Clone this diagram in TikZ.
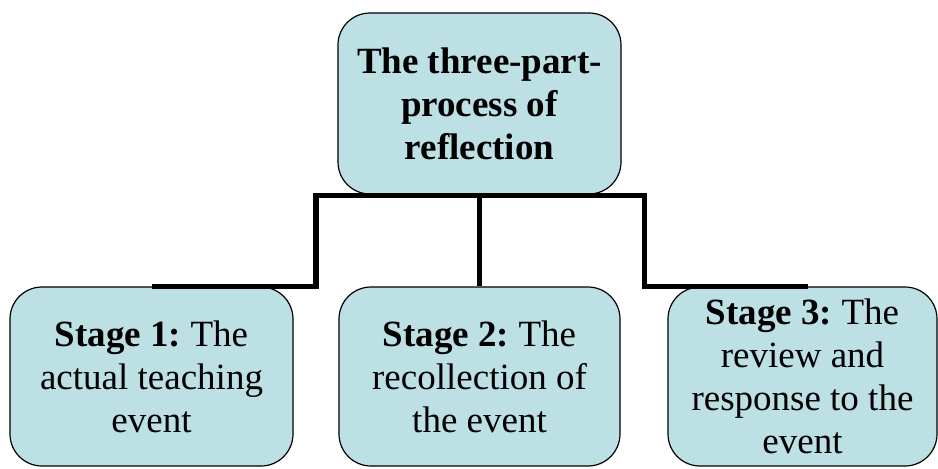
\documentclass[tikz,border=0pt]{standalone}
\usepackage{fontspec}
\setmainfont{Liberation Serif}
\definecolor{boxfill}{RGB}{188,224,228}
\begin{document}
\frenchspacing
\begin{tikzpicture}[x=0.5pt,y=-0.5pt,
  stagebox/.style={draw=black, line width=0.6pt, fill=boxfill, rounded corners=16pt,
    inner sep=0pt, align=center, font=\fontsize{18.5pt}{21.5pt}\selectfont},
  conn/.style={draw=black, line width=2.6pt, line join=miter}]
  \useasboundingbox (0,0) rectangle (938,468);

  % boxes
  \node[stagebox, minimum width=141.5pt, minimum height=90.5pt] (top) at (479.5,103.5)
    {\textbf{The three-part-}\\\textbf{process of}\\\textbf{reflection}};
  \node[stagebox, minimum width=141.5pt, minimum height=89.5pt] (s1) at (151.5,376.5)
    {\textbf{Stage 1:} The\\actual teaching\\event};
  \node[stagebox, minimum width=140.5pt, minimum height=89.5pt] (s2) at (479.5,376.5)
    {\textbf{Stage 2:} The\\recollection of\\the event};
  \node[stagebox, minimum width=134.5pt, minimum height=89.5pt] (s3) at (802.5,376.5)
    {\textbf{Stage 3:} The\\review and\\response to the\\event};

  % tree connector
  \coordinate (jl) at (316,195.5);
  \coordinate (jr) at (644.5,195.5);
  \draw[conn] (s1.north) -- (jl |- s1.north) -- (jl) -- (jr) -- (jr |- s3.north) -- ([xshift=2.75pt]s3.north);
  \draw[conn] (top.south) -- (s2.north);
\end{tikzpicture}
\end{document}
